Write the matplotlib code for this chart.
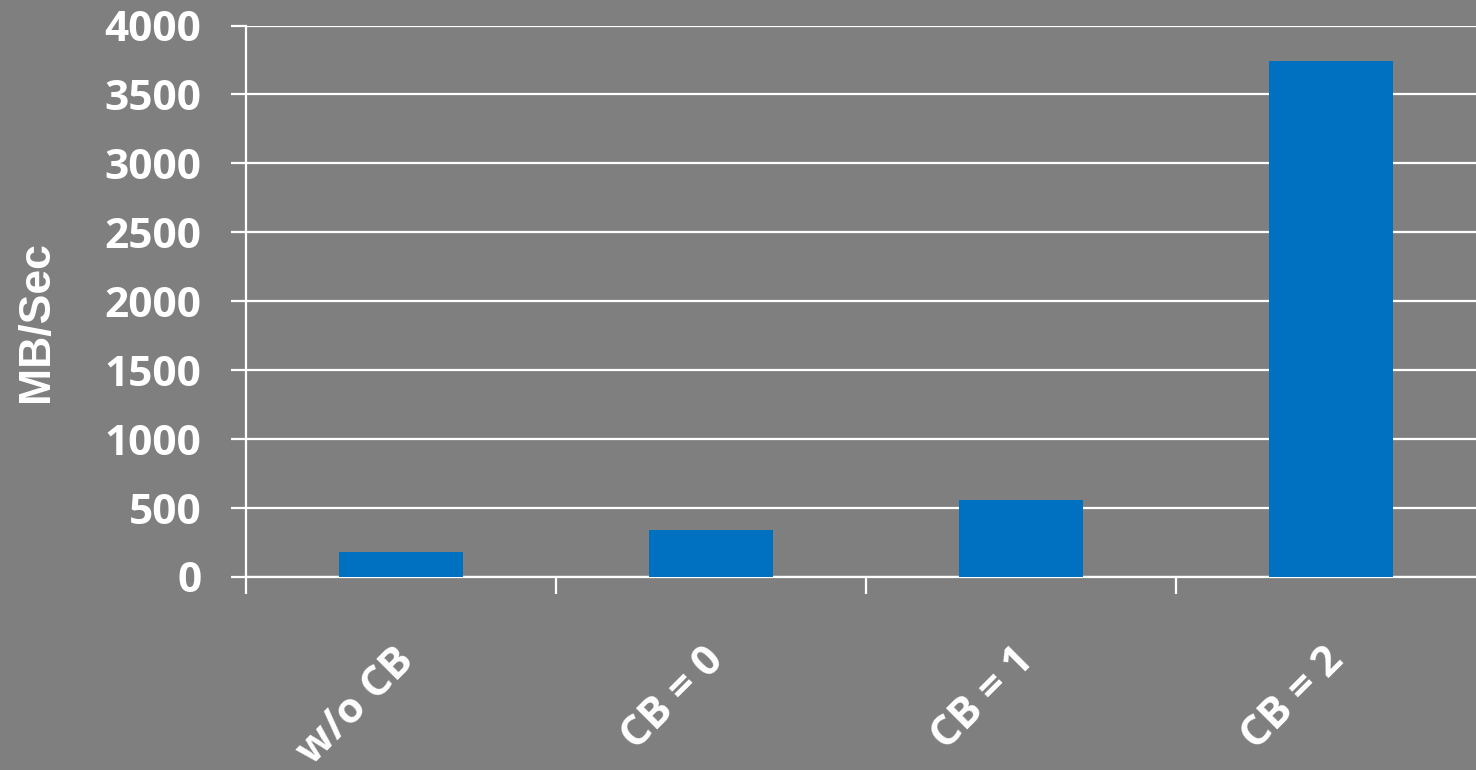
import matplotlib
matplotlib.use("Agg")
import matplotlib.pyplot as plt

# throughput per setting
categories = ["w/o CB", "CB = 0", "CB = 1", "CB = 2"]
mb_per_sec = [182, 338, 562, 3742]
yticks = [0, 500, 1000, 1500, 2000, 2500, 3000, 3500, 4000]

bg = "#7f7f7f"
bar_color = "#0070c0"

fig = plt.figure(figsize=(14.76, 7.70), dpi=100, facecolor=bg)
ax = fig.add_axes([246 / 1476, 1 - 577 / 770, 1240 / 1476, 551.5 / 770])
ax.set_facecolor(bg)

x = list(range(len(categories)))
ax.bar(x, mb_per_sec, width=0.4, color=bar_color, zorder=3)

ax.set_xlim(-0.5, len(categories) - 0.5)
ax.set_ylim(0, 4000)
ax.set_yticks(yticks)
ax.set_yticklabels([str(v) for v in yticks], fontsize=30.5, fontweight="bold",
                   family="Open Sans", color="white")
ax.yaxis.grid(True, color="white", linewidth=1.6, zorder=0)
ax.set_axisbelow(True)

# category boundaries carry the tick marks, labels sit at the centres
ax.set_xticks([i - 0.5 for i in range(len(categories) + 1)])
ax.set_xticklabels([])
ax.tick_params(axis="x", length=12, width=1.6, color="white", direction="out")
ax.tick_params(axis="y", length=11, width=1.6, color="white", direction="out", pad=21)

for s in ["top", "right"]:
    ax.spines[s].set_visible(False)
for s in ["left", "bottom"]:
    ax.spines[s].set_color("white")
    ax.spines[s].set_linewidth(1.6)

for i, name in enumerate(categories):
    ax.text(i - 0.024, -0.115, name, transform=ax.get_xaxis_transform(),
            rotation=45, rotation_mode="anchor", ha="right", va="top",
            fontsize=30.5, fontweight="bold", family="Open Sans", color="white")

fig.text(36.5 / 1476, 1 - 322 / 770, "MB/Sec", rotation=90, ha="center", va="center",
         fontsize=32, fontweight="bold", family="Liberation Sans", color="white")

fig.savefig("out.png", dpi=100, facecolor=bg)
